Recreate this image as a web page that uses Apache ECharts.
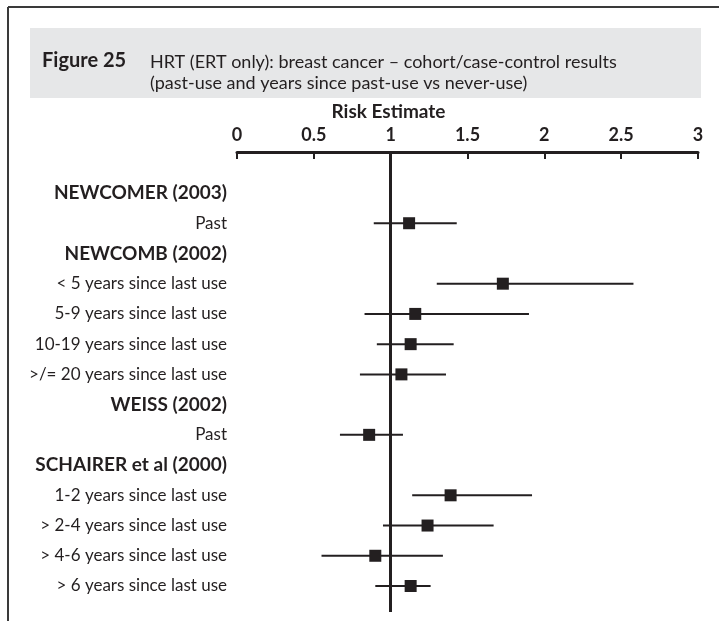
<!DOCTYPE html>
<html>
<head>
<meta charset="utf-8">
<script src="https://cdn.jsdelivr.net/npm/echarts@6/dist/echarts.min.js"></script>
<style>
  html, body { margin: 0; padding: 0; background: #fff; }
  #chart { width: 719px; height: 621px; }
</style>
</head>
<body>
<div id="chart"></div>
<script>
// Rows of the forest plot, top to bottom. Study headings have no estimate.
const rowLabels = [
  'NEWCOMER (2003)',
  'Past',
  'NEWCOMB (2002)',
  '< 5 years since last use',
  '5-9 years since last use',
  '10-19 years since last use',
  '>/= 20 years since last use',
  'WEISS (2002)',
  'Past',
  'SCHAIRER et al (2000)',
  '1-2 years since last use',
  '> 2-4 years since last use',
  '> 4-6 years since last use',
  '> 6 years since last use'
];
const estimates = [null, 1.12, null, 1.73, 1.16, 1.13, 1.07, null, 0.86, null, 1.39, 1.24, 0.90, 1.13];
const lowerCI   = [null, 0.89, null, 1.30, 0.83, 0.91, 0.80, null, 0.67, null, 1.14, 0.95, 0.55, 0.90];
const upperCI   = [null, 1.43, null, 2.58, 1.90, 1.41, 1.36, null, 1.08, null, 1.92, 1.67, 1.34, 1.26];

const INK = '#231f20';
const FONT = 'Lato, "Open Sans", sans-serif';

const rowIndex = rowLabels.map((_, i) => i);
const pointData = [];
const ciData = [];
rowLabels.forEach((_, i) => {
  if (estimates[i] !== null) {
    pointData.push([estimates[i], i]);
    ciData.push([lowerCI[i], upperCI[i], i]);
  }
});

const chart = echarts.init(document.getElementById('chart'), null, { renderer: 'canvas' });

chart.setOption({
  backgroundColor: '#fff',
  animation: false,
  graphic: [
    // open frame: top and left rules
    { type: 'line', shape: { x1: 8, y1: 7, x2: 719, y2: 7 }, style: { stroke: '#3a3a3a', lineWidth: 2 } },
    { type: 'line', shape: { x1: 8, y1: 7, x2: 8, y2: 621 }, style: { stroke: '#3a3a3a', lineWidth: 2 } },
    // caption panel
    { type: 'rect', shape: { x: 30, y: 28, width: 671, height: 70 }, style: { fill: '#e6e7e8' } },
    { type: 'text', left: 42, top: 51, style: { text: 'Figure 25', font: 'bold 20px ' + FONT, fill: INK } },
    { type: 'text', left: 150, top: 52, style: {
        text: 'HRT (ERT only): breast cancer – cohort/case-control results\n(past-use and years since past-use vs never-use)',
        font: '18px ' + FONT, lineHeight: 21, fill: INK } }
  ],
  grid: { left: 237, right: 21, top: 152, bottom: 9, containLabel: false },
  xAxis: {
    type: 'value',
    position: 'top',
    min: 0,
    max: 3,
    interval: 0.5,
    name: 'Risk Estimate',
    nameLocation: 'middle',
    nameGap: 30,
    nameTextStyle: {
      fontFamily: FONT, fontWeight: 'bold', fontSize: 19, color: INK,
      padding: [0, 158, 0, 0]
    },
    axisLine: { show: true, onZero: false, lineStyle: { color: INK, width: 3 } },
    axisTick: { show: true, inside: true, length: 7, lineStyle: { color: INK, width: 2 } },
    axisLabel: {
      margin: 8,
      fontFamily: FONT, fontWeight: 'bold', fontSize: 18, color: INK,
      formatter: v => String(v)
    },
    splitLine: { show: false }
  },
  yAxis: {
    type: 'value',
    inverse: true,
    min: -1.356,
    max: 13.86,
    axisLine: { show: false },
    axisTick: { show: false },
    splitLine: { show: false },
    axisLabel: {
      customValues: rowIndex,
      margin: 10,
      formatter: v => {
        const i = Math.round(v);
        const tag = estimates[i] === null ? 'h' : 'r';
        return '{' + tag + '|' + rowLabels[i] + '}';
      },
      rich: {
        h: { fontFamily: FONT, fontWeight: 'bold', fontSize: 19, color: INK },
        r: { fontFamily: FONT, fontSize: 17, color: INK }
      }
    }
  },
  series: [
    {
      type: 'custom',
      name: 'CI',
      data: ciData,
      encode: { x: [0, 1], y: 2 },
      renderItem: (params, api) => {
        const a = api.coord([api.value(0), api.value(2)]);
        const b = api.coord([api.value(1), api.value(2)]);
        return {
          type: 'line',
          shape: { x1: a[0], y1: a[1], x2: b[0], y2: b[1] },
          style: { stroke: INK, lineWidth: 2 }
        };
      },
      z: 3,
      markLine: {
        silent: true,
        symbol: 'none',
        label: { show: false },
        lineStyle: { color: INK, width: 3, type: 'solid' },
        data: [{ xAxis: 1 }]
      }
    },
    {
      type: 'scatter',
      name: 'Estimate',
      data: pointData,
      symbol: 'rect',
      symbolSize: 12,
      itemStyle: { color: INK, opacity: 1 },
      z: 4
    }
  ]
});
</script>
</body>
</html>
